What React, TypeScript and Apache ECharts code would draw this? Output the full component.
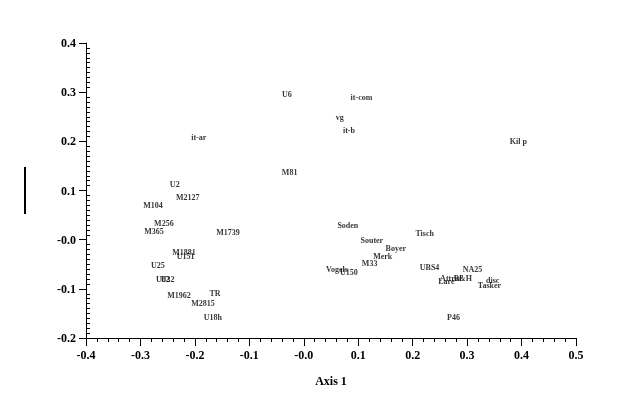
import React, { useEffect, useRef } from "react";
import * as echarts from "echarts";

const names = [
  "U6", "it-com", "vg", "it-b", "it-ar", "Kil p", "M81", "U2", "M2127", "M104",
  "M256", "M365", "M1739", "Soden", "Tisch", "Souter", "Boyer", "Merk", "M33",
  "M1881", "U151", "U25", "Vogels", "U150", "UBS4", "NA25", "Attrid", "B&H",
  "Lare", "disc", "Tasker", "U82", "U32", "M1962", "TR", "M2815", "U18h", "P46",
];
const xValues = [
  -0.031, 0.106, 0.066, 0.083, -0.193, 0.394, -0.026, -0.237, -0.213, -0.277,
  -0.257, -0.275, -0.139, 0.081, 0.222, 0.125, 0.169, 0.145, 0.121,
  -0.22, -0.217, -0.268, 0.061, 0.083, 0.231, 0.31, 0.27, 0.292,
  0.262, 0.347, 0.341, -0.259, -0.25, -0.229, -0.163, -0.185, -0.167, 0.275,
];
const yValues = [
  0.296, 0.29, 0.248, 0.223, 0.207, 0.199, 0.136, 0.113, 0.085, 0.069,
  0.032, 0.016, 0.014, 0.028, 0.012, -0.002, -0.017, -0.035, -0.049,
  -0.027, -0.035, -0.053, -0.061, -0.067, -0.057, -0.061, -0.078, -0.078,
  -0.085, -0.084, -0.094, -0.082, -0.082, -0.114, -0.11, -0.13, -0.159, -0.159,
];
const xTitle = "Axis 1";

const fmt = (v: number) => (Math.abs(v) < 1e-9 ? "-0.0" : v.toFixed(1));
const FONT = "'Liberation Serif', 'DejaVu Serif', serif";

export default function App() {
  const ref = useRef<HTMLDivElement>(null);
  useEffect(() => {
    const chart = echarts.init(ref.current!, null, { renderer: "svg" });
    const data = names.map((n, i) => [xValues[i], yValues[i], n]);
    const axisText = { fontFamily: FONT, fontWeight: "bold", fontSize: 12, color: "#000" };
    chart.setOption({
      animation: false,
      backgroundColor: "#fff",
      grid: { left: 86, right: 48, top: 43, bottom: 75, containLabel: false },
      xAxis: [
        {
          type: "value", min: -0.4, max: 0.5, interval: 0.1,
          axisLine: { show: true, onZero: false, lineStyle: { color: "#000", width: 1 } },
          axisTick: { show: true, length: 8, lineStyle: { color: "#000" } },
          minorTick: { show: true, splitNumber: 5, length: 4, lineStyle: { color: "#000" } },
          splitLine: { show: false },
          axisLabel: { ...axisText, formatter: fmt, margin: 11 },
          name: xTitle, nameLocation: "middle", nameGap: 37,
          nameTextStyle: { ...axisText, fontSize: 12 },
        },
      ],
      yAxis: [
        {
          type: "value", min: -0.2, max: 0.4, interval: 0.1,
          axisLine: { show: true, onZero: false, lineStyle: { color: "#000", width: 1 } },
          axisTick: { show: true, length: 7, lineStyle: { color: "#000" } },
          splitLine: { show: false },
          axisLabel: { ...axisText, formatter: fmt, margin: 10 },
        },
        {
          type: "value", min: -0.2, max: 0.4, interval: 0.1, position: "left",
          axisLine: { show: false, onZero: false },
          axisTick: { show: false, inside: true },
          minorTick: { show: true, splitNumber: 10, length: 4, lineStyle: { color: "#000" } },
          splitLine: { show: false },
          axisLabel: { show: false },
        },
      ],
      series: [
        {
          type: "scatter",
          data,
          symbolSize: 2,
          itemStyle: { color: "rgba(0,0,0,0)" },
          label: {
            show: true,
            position: "inside",
            formatter: (p: any) => p.data[2],
            fontFamily: FONT,
            fontWeight: "bold",
            fontSize: 8,
            color: "#000",
            textBorderWidth: 0,
            textBorderColor: "transparent",
          },
          labelLayout: { hideOverlap: false },
        },
      ],
      graphic: [
        {
          type: "line",
          shape: { x1: 25, y1: 167, x2: 25, y2: 214 },
          style: { stroke: "#000", lineWidth: 2 },
        },
      ],
    });
    return () => chart.dispose();
  }, []);
  return (
    <div
      ref={ref}
      style={{ position: "fixed", left: 0, top: 0, width: 624, height: 413, willChange: "transform", background: "#fff" }}
    />
  );
}
